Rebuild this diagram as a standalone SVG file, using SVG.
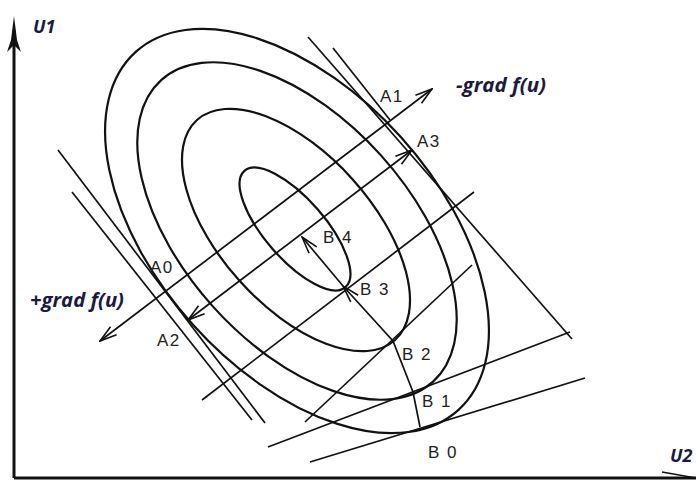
<svg xmlns="http://www.w3.org/2000/svg" width="696" height="483" viewBox="0 0 696 483">
<defs>
<marker id="ar" viewBox="0 0 20 12" refX="19" refY="6" markerWidth="20" markerHeight="12" markerUnits="userSpaceOnUse" orient="auto-start-reverse">
<path d="M2,1 L19,6 L2,11" fill="none" stroke="#111" stroke-width="1.6"/>
</marker>
</defs>
<style>
.c{fill:none;stroke:#111;stroke-width:2.2}
.l{fill:none;stroke:#111;stroke-width:1.7}
.ax{fill:none;stroke:#111;stroke-width:3}
.t{font-family:"Liberation Sans",Arial,sans-serif;font-size:17px;letter-spacing:1.5px;fill:#222}
.g{font-family:"Open Sans","Noto Sans",sans-serif;font-style:italic;font-weight:bold;font-size:19px;fill:#1a1a40}
.u{font-family:"Open Sans","Noto Sans",sans-serif;font-style:italic;font-weight:bold;font-size:18px;fill:#1a1a40}
</style>
<rect width="696" height="483" fill="#fff"/>
<g id="axes">
<line class="ax" x1="14" y1="30" x2="14" y2="478"/>
<line class="ax" x1="14" y1="478" x2="696" y2="478"/>
<path d="M14,16 L17,40 L21,52 L14,45 L7,52 L11,40 Z" fill="#111"/>
<line class="l" x1="662" y1="472" x2="696" y2="478"/>
</g>
<g id="ellipses">
<ellipse class="c" cx="297" cy="231" rx="241" ry="140" transform="rotate(48 297 231)"/>
<ellipse class="c" cx="297" cy="231" rx="203" ry="113" transform="rotate(48 297 231)"/>
<ellipse class="c" cx="296" cy="230" rx="148" ry="76" transform="rotate(48 296 230)"/>
<ellipse class="c" cx="295" cy="229" rx="77" ry="30" transform="rotate(49 295 229)"/>
</g>
<g id="connectors">
<line class="l" x1="308" y1="37" x2="572" y2="339"/>
<line class="l" x1="333" y1="48" x2="390" y2="120"/>
<line class="l" x1="58" y1="150" x2="265" y2="423"/>
<line class="l" x1="72" y1="192" x2="252" y2="420"/>
<line class="l" x1="268" y1="447" x2="570" y2="332"/>
<line class="l" x1="310" y1="462" x2="585" y2="378"/>
<line class="l" x1="100" y1="341" x2="432" y2="89" marker-start="url(#ar)" marker-end="url(#ar)"/>
<line class="l" x1="188" y1="320" x2="412" y2="150" marker-start="url(#ar)" marker-end="url(#ar)"/>
<line class="l" x1="202" y1="400" x2="474" y2="192"/>
<line class="l" x1="305" y1="422" x2="472" y2="265"/>
<polyline class="l" points="420,427 413,392 393,341 343,286" marker-end="url(#ar)"/>
<line class="l" x1="343" y1="286" x2="302" y2="237" marker-end="url(#ar)"/>
</g>
<g id="labels">
<text class="u" x="33" y="33">U1</text>
<text class="u" x="670" y="462">U2</text>
<text class="g" x="456" y="92" textLength="90" lengthAdjust="spacingAndGlyphs">-grad f(u)</text>
<text class="g" x="30" y="307" textLength="94" lengthAdjust="spacingAndGlyphs">+grad f(u)</text>
<text class="t" x="380" y="102">A1</text>
<text class="t" x="417" y="147">A3</text>
<text class="t" x="150" y="273">A0</text>
<text class="t" x="157" y="346">A2</text>
<text class="t" x="323" y="243">B 4</text>
<text class="t" x="360" y="295">B 3</text>
<text class="t" x="402" y="360">B 2</text>
<text class="t" x="422" y="407">B 1</text>
<text class="t" x="428" y="458">B 0</text>
</g>
</svg>
